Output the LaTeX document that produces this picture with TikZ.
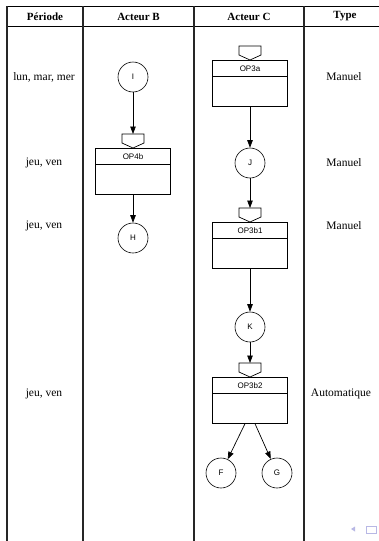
\documentclass[tikz,border=0pt]{standalone}
\usepackage{fontspec}
\setmainfont{Liberation Serif}
\newfontfamily\lblfont{Liberation Sans}
\usetikzlibrary{arrows.meta,calc}
\definecolor{navc}{rgb}{0.72,0.72,0.9}
\newcommand\OpStep[4]{%
  \node[opbox, anchor=north] (#1) at (#2,#3) {};
  \draw[line width=0.7pt] ($(#1.north west)+(0,16)$) -- ($(#1.north east)+(0,16)$);
  \node[lbl] (#1-t) at ($(#1.north)+(0,8.5)$) {#4};
  \draw[line width=0.7pt, fill=white] ($(#1.north)+(-11,-14)$) -- ++(22,0) -- ++(0,9) -- ++(-11,5) -- ++(-11,-5) -- cycle;
  \coordinate (#1-in) at ($(#1.north)+(0,-14)$);
}
\begin{document}
\begin{tikzpicture}[x=1pt,y=-1pt,
  hline/.style={line width=0.8pt},
  vline/.style={line width=1.3pt, black!85},
  hd/.style={font=\fontsize{11}{13}\selectfont\bfseries},
  cell/.style={font=\fontsize{11.5}{13}\selectfont},
  lbl/.style={font=\lblfont\fontsize{8}{9}\selectfont, inner sep=0pt},
  etat/.style={circle, draw, line width=0.6pt, minimum size=30pt, inner sep=0pt, font=\lblfont\fontsize{8}{9}\selectfont},
  opbox/.style={draw, line width=0.7pt, minimum width=75pt, minimum height=46pt, inner sep=0pt},
  conn/.style={line width=0.7pt, -{Triangle[length=7.5pt,width=5.5pt]}},
]
\useasboundingbox (0,0) rectangle (379,541);
\fill[white] (0,0) rectangle (379,541);
\begin{scope}
\clip (0,0) rectangle (379,541);
% table lines
\draw[hline] (7,6.5) -- (390,6.5);
\draw[hline] (7,26.5) -- (390,26.5);
\foreach \xx in {7,83,194,304} \draw[vline] (\xx,6) -- (\xx,550);
\end{scope}
% headers
\node[hd] (h1) at (45,16.5) {Période};
\node[hd] (h2) at (138.5,16.5) {Acteur B};
\node[hd] (h3) at (249,16.5) {Acteur C};
\node[hd] (h4) at (345,16.5) {Type};
% periods
\node[cell] (p1) at (44,77) {lun, mar, mer};
\node[cell] (p2) at (44,163) {jeu, ven};
\node[cell] (p3) at (44,226) {jeu, ven};
\node[cell] (p4) at (44,394) {jeu, ven};
% types
\node[cell] (t1) at (344,77) {Manuel};
\node[cell] (t2) at (344,163) {Manuel};
\node[cell] (t3) at (344,226) {Manuel};
\node[cell] (t4) at (341,394) {Automatique};
% states
\node[etat] (I) at (133,77) {I};
\node[etat] (H) at (133,238) {H};
\node[etat] (J) at (250,163) {J};
\node[etat] (K) at (250,327) {K};
\node[etat] (F) at (221,473) {F};
\node[etat] (G) at (277,473) {G};
% operations
\OpStep{op3a}{250}{60}{OP3a}
\OpStep{op4b}{133}{148}{OP4b}
\OpStep{op3b1}{250}{222}{OP3b1}
\OpStep{op3b2}{250}{377}{OP3b2}
\coordinate (o1) at ($(op3b2.south)+(-5,0)$);
\coordinate (o2) at ($(op3b2.south)+(5,0)$);
% connectors
\draw[conn] (I) -- (op4b-in);
\draw[conn] (op4b) -- (H);
\draw[conn] (op3a) -- (J);
\draw[conn] (J) -- (op3b1-in);
\draw[conn] (op3b1) -- (K);
\draw[conn] (K) -- (op3b2-in);
\draw[conn] (o1) -- (F);
\draw[conn] (o2) -- (G);
% navigation symbols
\fill[navc] (351,529) -- (355,526.5) -- (355,531.5) -- cycle;
\draw[navc, line width=0.8pt] (366,526) rectangle (376,533);
\end{tikzpicture}
\end{document}
